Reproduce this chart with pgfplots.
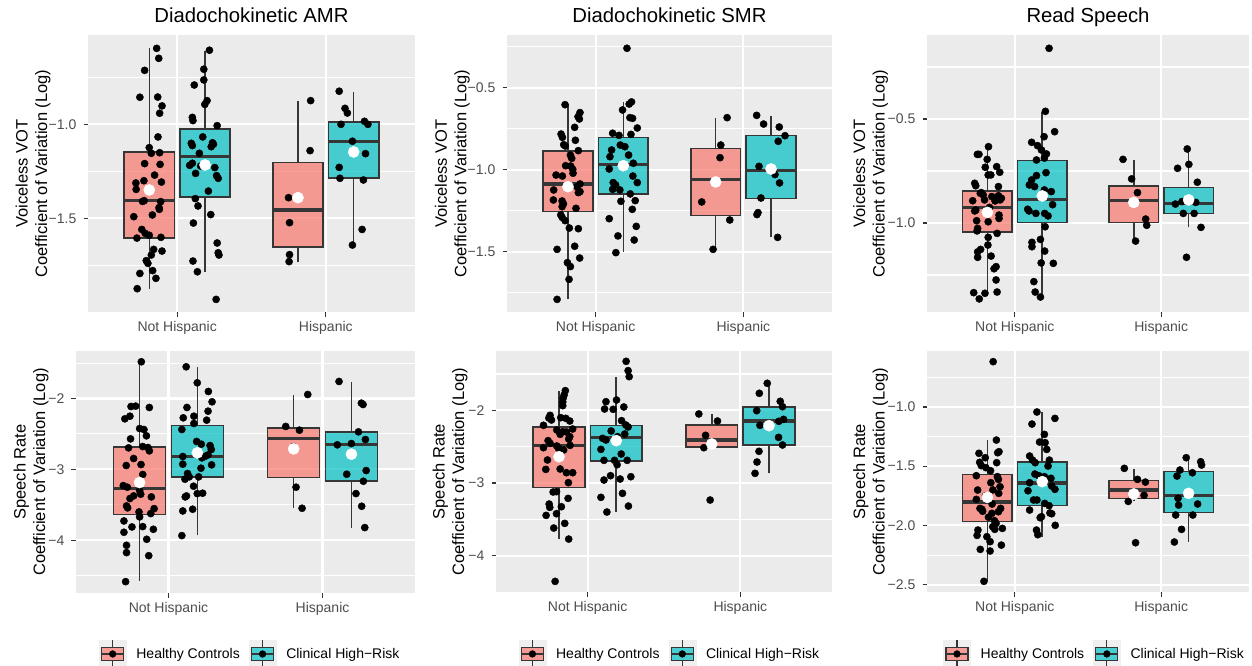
\documentclass[border=0pt]{standalone}
\usepackage{fontspec}
\setmainfont{Liberation Sans}
\usepackage{pgfplots}
\pgfplotsset{compat=1.18}
\definecolor{panelbg}{HTML}{EBEBEB}
\definecolor{ticktext}{HTML}{4D4D4D}
\definecolor{tickgrey}{HTML}{333333}
\definecolor{boxline}{HTML}{363636}
\definecolor{ggpink}{HTML}{F8766D}
\definecolor{ggteal}{HTML}{00BFC4}
\definecolor{keybg}{HTML}{EFEFEF}
\definecolor{keypink}{HTML}{F69B95}
\definecolor{keyteal}{HTML}{49CED2}
\pgfplotsset{
  gg/.style={
    scale only axis, anchor=north west,
    xmin=0.4, xmax=2.6, enlargelimits=false,
    xtick={1,2}, xticklabels={Not Hispanic,Hispanic},
    axis background/.style={fill=panelbg},
    axis line style={draw=none},
    tick align=outside, major tick length=4.5pt, minor tick length=0pt,
    tick style={draw=tickgrey, line width=1.1pt},
    tick pos=left,
    xmajorgrids, ymajorgrids, yminorgrids,
    major grid style={draw=white, line width=2.1pt},
    minor grid style={draw=white, line width=1.05pt},
    /pgf/number format/assume math mode=true,
    tick label style={font=\fontsize{14}{16.8}\selectfont, text=ticktext},
    xticklabel style={anchor=base, yshift=-14.5pt},
    yticklabel style={anchor=east, inner sep=0pt, xshift=-7pt},
    ylabel style={font=\fontsize{16.5}{19.5}\selectfont, align=center, anchor=south, inner sep=0pt},
    title style={font=\fontsize{20.3}{24}\selectfont, at={(axis description cs:0.5,1)}, anchor=base, yshift=6.3pt, inner sep=0pt},
    legend cell align=left,
  },
  whisk/.style={draw=boxline, line width=1.6pt, forget plot},
  pts/.style={only marks, mark=*, mark size=3.6pt, draw=black, fill=black, forget plot},
  means/.style={only marks, mark=*, mark size=5.6pt, draw=white, fill=white, forget plot},
  ggkey/.style={legend image code/.code={
      \fill[keybg] (0pt,-13.5pt) rectangle (27pt,13.5pt);
      \draw[boxline, line width=1.1pt] (13.5pt,-13.5pt) -- (13.5pt,13.5pt);
      \filldraw[fill=#1, draw=boxline, line width=1.1pt] (2.5pt,-6.5pt) rectangle (24.5pt,6.5pt);
      \draw[boxline, line width=2.2pt] (2.5pt,0pt) -- (24.5pt,0pt);
      \fill[black] (13.5pt,0pt) circle (3.4pt);
  }},
  gglegend/.style 2 args={
    legend style={at={(axis description cs:#1,#2)}, anchor=west, legend columns=2,
      draw=none, fill=none, inner sep=0pt, outer sep=0pt,
      font=\fontsize{14}{16.8}\selectfont, text=black, nodes={inner sep=0pt},
      /tikz/every odd column/.append style={column sep=10pt},
      /tikz/every even column/.append style={column sep=9pt}},
  },
}
% one box with whiskers and median: fill, x left, x centre, x right, lower whisker, Q1, median, Q3, upper whisker
\newcommand{\ggbox}[9]{%
  \addplot[whisk] coordinates {(#3,#5) (#3,#6)};
  \addplot[whisk] coordinates {(#3,#8) (#3,#9)};
  \addplot[draw=boxline, fill=#1, fill opacity=0.7, line width=1.6pt, line join=miter, forget plot]
     coordinates {(#2,#6) (#4,#6) (#4,#8) (#2,#8)} -- cycle;
  \addplot[draw=boxline, line width=3.2pt, forget plot] coordinates {(#2,#7) (#4,#7)};
}
\newcommand{\bA}[5]{\ggbox{ggpink}{0.64375}{0.8125}{0.98125}{#1}{#2}{#3}{#4}{#5}}
\newcommand{\bB}[5]{\ggbox{ggteal}{1.01875}{1.1875}{1.35625}{#1}{#2}{#3}{#4}{#5}}
\newcommand{\bC}[5]{\ggbox{ggpink}{1.64375}{1.8125}{1.98125}{#1}{#2}{#3}{#4}{#5}}
\newcommand{\bD}[5]{\ggbox{ggteal}{2.01875}{2.1875}{2.35625}{#1}{#2}{#3}{#4}{#5}}
\begin{document}
\begin{tikzpicture}
\path[use as bounding box] (0pt,0pt) rectangle (1252pt,-666pt);

%% ---------------- Panel 1: AMR, VOT ----------------
\begin{axis}[gg, at={(88pt,-35pt)}, width=327pt, height=277pt,
  ymin=-1.998, ymax=-0.525,
  ytick={-2,-1.5,-1}, yticklabels={−2.0,−1.5,−1.0}, minor ytick={-1.75,-1.25,-0.75},
  title={Diadochokinetic AMR},
  ylabel={Voiceless VOT\\Coefficient of Variation (Log)},
  ylabel style={at={(axis description cs:-0.1137,0.5)}}]
\bA{-1.874}{-1.606}{-1.404}{-1.147}{-0.596}
\bB{-1.784}{-1.387}{-1.172}{-1.025}{-0.608}
\bC{-1.730}{-1.652}{-1.456}{-1.202}{-0.874}
\bD{-1.642}{-1.287}{-1.092}{-0.989}{-0.826}
\addplot[pts] coordinates {
(0.862,-0.596) (0.876,-0.649) (0.781,-0.713) (0.749,-0.856) (0.869,-0.855) (0.898,-0.902)
(0.882,-0.941) (0.871,-1.067) (0.812,-1.124) (0.826,-1.154) (0.882,-1.151) (0.781,-1.209)
(0.885,-1.213) (0.848,-1.270) (0.776,-1.300) (0.894,-1.307) (0.722,-1.312) (0.724,-1.346)
(0.778,-1.406) (0.767,-1.410) (0.889,-1.411) (0.878,-1.443) (0.880,-1.452) (0.833,-1.482)
(0.708,-1.491) (0.762,-1.559) (0.729,-1.605) (0.785,-1.580) (0.812,-1.590) (0.891,-1.601)
(0.842,-1.665) (0.898,-1.674) (0.826,-1.695) (0.792,-1.725) (0.803,-1.739) (0.835,-1.778)
(0.749,-1.793) (0.857,-1.819) (0.731,-1.874)};
\addplot[pts] coordinates {
(1.217,-0.606) (1.179,-0.707) (1.179,-0.764) (1.115,-0.791) (1.201,-0.874) (1.186,-0.894)
(1.102,-0.963) (1.106,-0.980) (1.269,-1.007) (1.172,-1.067) (1.095,-1.101) (1.102,-1.113)
(1.238,-1.098) (1.229,-1.119) (1.149,-1.154) (1.244,-1.106) (1.084,-1.218) (1.102,-1.207)
(1.253,-1.230) (1.124,-1.261) (1.265,-1.273) (1.276,-1.287) (1.210,-1.355) (1.122,-1.395)
(1.140,-1.434) (1.226,-1.480) (1.109,-1.525) (1.269,-1.631) (1.276,-1.683) (1.281,-1.695)
(1.106,-1.727) (1.136,-1.784) (1.262,-1.931) (1.158,-1.222)};
\addplot[pts] coordinates {
(1.898,-0.874) (1.894,-1.140) (1.749,-1.390) (1.756,-1.523) (1.756,-1.693) (1.753,-1.730)};
\addplot[pts] coordinates {
(2.090,-0.824) (2.129,-0.915) (2.145,-0.940) (2.102,-1.000) (2.260,-0.984) (2.283,-1.000)
(2.179,-1.090) (2.267,-1.156) (2.090,-1.229) (2.095,-1.287) (2.253,-1.296) (2.244,-1.559)
(2.179,-1.642)};
\addplot[means] coordinates {(0.8125,-1.349) (1.1875,-1.216) (1.8125,-1.390) (2.1875,-1.147)};
\end{axis}

%% ---------------- Panel 2: SMR, VOT ----------------
\begin{axis}[gg, at={(507pt,-35pt)}, width=325pt, height=277pt,
  ymin=-1.868, ymax=-0.179,
  ytick={-1.5,-1,-0.5}, yticklabels={−1.5,−1.0,−0.5}, minor ytick={-1.75,-1.25,-0.75,-0.25},
  title={Diadochokinetic SMR},
  ylabel={Voiceless VOT\\Coefficient of Variation (Log)},
  ylabel style={at={(axis description cs:-0.1139,0.5)}}]
\bA{-1.789}{-1.256}{-1.087}{-0.888}{-0.602}
\bB{-1.500}{-1.150}{-0.967}{-0.805}{-0.590}
\bC{-1.486}{-1.280}{-1.061}{-0.870}{-0.683}
\bD{-1.411}{-1.177}{-1.006}{-0.793}{-0.673}
\addplot[pts] coordinates {
(0.793,-0.604) (0.894,-0.652) (0.881,-0.677) (0.890,-0.691) (0.858,-0.742) (0.766,-0.783)
(0.775,-0.803) (0.863,-0.821) (0.784,-0.848) (0.795,-0.856) (0.883,-0.884) (0.829,-0.911)
(0.838,-0.931) (0.797,-0.976) (0.831,-0.978) (0.845,-0.998) (0.847,-1.022) (0.732,-1.033)
(0.775,-1.039) (0.894,-1.087) (0.874,-1.104) (0.716,-1.124) (0.883,-1.140) (0.894,-1.134)
(0.714,-1.185) (0.773,-1.191) (0.782,-1.209) (0.773,-1.226) (0.867,-1.236) (0.764,-1.276)
(0.773,-1.291) (0.793,-1.311) (0.822,-1.356) (0.883,-1.360) (0.739,-1.486) (0.858,-1.467)
(0.809,-1.567) (0.829,-1.591) (0.892,-1.539) (0.820,-1.669) (0.739,-1.791)};
\addplot[pts] coordinates {
(1.212,-0.260) (1.243,-0.587) (1.227,-0.600) (1.182,-0.636) (1.232,-0.683) (1.250,-0.687)
(1.282,-0.746) (1.115,-0.778) (1.158,-0.791) (1.239,-0.785) (1.167,-0.850) (1.198,-0.860)
(1.108,-0.880) (1.097,-0.921) (1.223,-0.911) (1.255,-0.961) (1.092,-0.996) (1.252,-1.039)
(1.119,-1.079) (1.282,-1.079) (1.135,-1.093) (1.115,-1.120) (1.164,-1.124) (1.234,-1.148)
(1.171,-1.193) (1.268,-1.189) (1.248,-1.242) (1.092,-1.299) (1.275,-1.346) (1.151,-1.404)
(1.261,-1.429) (1.137,-1.506)};
\addplot[pts] coordinates {
(1.890,-0.683) (1.847,-0.850) (1.842,-0.927) (1.718,-1.197) (1.908,-1.307) (1.795,-1.486)};
\addplot[pts] coordinates {
(2.090,-0.669) (2.137,-0.722) (2.243,-0.740) (2.282,-0.793) (2.236,-0.827) (2.106,-0.980)
(2.214,-1.030) (2.245,-1.081) (2.119,-1.173) (2.099,-1.262) (2.092,-1.274) (2.232,-1.413)};
\addplot[means] coordinates {(0.8125,-1.104) (1.1875,-0.976) (1.8125,-1.075) (2.1875,-0.996)};
\end{axis}

%% ---------------- Panel 3: Read, VOT ----------------
\begin{axis}[gg, at={(927pt,-35pt)}, width=322pt, height=277pt,
  ymin=-1.428, ymax=-0.096,
  ytick={-1,-0.5}, yticklabels={−1.0,−0.5}, minor ytick={-1.25,-0.75,-0.25},
  title={Read Speech},
  ylabel={Voiceless VOT\\Coefficient of Variation (Log)},
  ylabel style={at={(axis description cs:-0.1207,0.5)}}]
\bA{-1.351}{-1.042}{-0.925}{-0.845}{-0.633}
\bB{-1.354}{-0.998}{-0.886}{-0.699}{-0.465}
\bC{-1.079}{-0.998}{-0.891}{-0.821}{-0.697}
\bD{-1.021}{-0.955}{-0.907}{-0.830}{-0.644}
\addplot[pts] coordinates {
(0.820,-0.633) (0.744,-0.670) (0.755,-0.670) (0.811,-0.694) (0.798,-0.732) (0.876,-0.729)
(0.897,-0.756) (0.818,-0.769) (0.836,-0.769) (0.726,-0.809) (0.733,-0.821) (0.888,-0.825)
(0.771,-0.854) (0.764,-0.857) (0.784,-0.865) (0.888,-0.869) (0.908,-0.881) (0.843,-0.873)
(0.712,-0.893) (0.793,-0.889) (0.865,-0.894) (0.899,-0.889) (0.733,-0.938) (0.726,-0.942)
(0.827,-0.925) (0.892,-0.962) (0.892,-0.978) (0.739,-0.989) (0.818,-0.994) (0.746,-1.026)
(0.742,-1.038) (0.879,-1.050) (0.818,-1.069) (0.816,-1.106) (0.766,-1.127) (0.746,-1.139)
(0.746,-1.165) (0.838,-1.159) (0.872,-1.210) (0.858,-1.220) (0.872,-1.274) (0.719,-1.335)
(0.796,-1.338) (0.879,-1.332) (0.757,-1.365)};
\addplot[pts] coordinates {
(1.234,-0.160) (1.209,-0.463) (1.272,-0.561) (1.200,-0.585) (1.115,-0.612) (1.155,-0.628)
(1.182,-0.649) (1.216,-0.668) (1.202,-0.688) (1.148,-0.697) (1.213,-0.758) (1.148,-0.772)
(1.115,-0.793) (1.099,-0.817) (1.135,-0.825) (1.202,-0.841) (1.249,-0.849) (1.088,-0.934)
(1.097,-0.942) (1.144,-0.954) (1.204,-0.954) (1.258,-0.912) (1.227,-0.966) (1.207,-1.018)
(1.117,-1.093) (1.175,-1.079) (1.117,-1.114) (1.204,-1.135) (1.180,-1.192) (1.263,-1.194)
(1.130,-1.282) (1.139,-1.332) (1.175,-1.356)};
\addplot[pts] coordinates {
(1.739,-0.694) (1.798,-0.788) (1.838,-0.854) (1.894,-0.981) (1.901,-1.011) (1.825,-1.087)};
\addplot[pts] coordinates {
(2.178,-0.644) (2.189,-0.718) (2.112,-0.737) (2.247,-0.804) (2.142,-0.897) (2.097,-0.909)
(2.236,-0.901) (2.151,-0.954) (2.225,-0.954) (2.272,-1.021) (2.173,-1.165)};
\addplot[means] coordinates {(0.8125,-0.949) (1.1875,-0.870) (1.8125,-0.901) (2.1875,-0.889)};
\end{axis}

%% ---------------- Panel 4: AMR, Speech rate ----------------
\begin{axis}[gg, at={(76pt,-351pt)}, width=339pt, height=242pt,
  ymin=-4.745, ymax=-1.33,
  ytick={-4,-3,-2}, yticklabels={−4,−3,−2}, minor ytick={-4.5,-3.5,-2.5,-1.5},
  ylabel={Speech Rate\\Coefficient of Variation (Log)},
  ylabel style={at={(axis description cs:-0.0805,0.5)}},
  gglegend={0.0678}{-0.252}]
\bA{-4.575}{-3.638}{-3.271}{-2.687}{-1.482}
\bB{-3.926}{-3.111}{-2.815}{-2.381}{-1.562}
\bC{-3.540}{-3.116}{-2.565}{-2.414}{-1.953}
\bD{-3.822}{-3.168}{-2.650}{-2.476}{-1.769}
\addplot[pts] coordinates {
(0.824,-1.482) (0.757,-2.113) (0.787,-2.108) (0.876,-2.127) (0.717,-2.287) (0.750,-2.250)
(0.813,-2.424) (0.841,-2.438) (0.857,-2.527) (0.754,-2.570) (0.741,-2.697) (0.833,-2.678)
(0.867,-2.692) (0.876,-2.739) (0.774,-2.847) (0.726,-2.946) (0.822,-2.932) (0.833,-3.073)
(0.707,-3.229) (0.733,-3.252) (0.774,-3.375) (0.750,-3.412) (0.820,-3.351) (0.889,-3.389)
(0.728,-3.516) (0.735,-3.544) (0.907,-3.554) (0.885,-3.624) (0.809,-3.601) (0.813,-3.671)
(0.711,-3.728) (0.763,-3.813) (0.833,-3.808) (0.902,-3.846) (0.711,-3.888) (0.728,-4.072)
(0.859,-3.987) (0.728,-4.175) (0.872,-4.218) (0.722,-4.585) (0.813,-3.300)};
\addplot[pts] coordinates {
(1.115,-1.553) (1.187,-1.779) (1.259,-1.901) (1.283,-2.047) (1.120,-2.127) (1.257,-2.179)
(1.096,-2.273) (1.165,-2.250) (1.248,-2.306) (1.165,-2.353) (1.087,-2.438) (1.183,-2.607)
(1.213,-2.645) (1.270,-2.664) (1.278,-2.720) (1.257,-2.796) (1.093,-2.819) (1.217,-2.838)
(1.239,-2.815) (1.093,-2.927) (1.211,-2.984) (1.280,-2.937) (1.124,-3.059) (1.135,-3.106)
(1.196,-3.106) (1.107,-3.139) (1.163,-3.238) (1.117,-3.375) (1.109,-3.389) (1.222,-3.337)
(1.187,-3.342) (1.157,-3.563) (1.093,-3.587) (1.087,-3.935)};
\addplot[pts] coordinates {
(1.904,-1.944) (1.761,-2.395) (1.850,-2.447) (1.811,-2.680) (1.828,-3.252) (1.867,-3.549)};
\addplot[pts] coordinates {
(2.107,-1.760) (2.252,-2.066) (2.263,-2.085) (2.233,-2.471) (2.278,-2.579) (2.096,-2.654)
(2.187,-2.636) (2.157,-3.069) (2.283,-3.017) (2.265,-3.168) (2.217,-3.342) (2.254,-3.521)
(2.274,-3.822)};
\addplot[means] coordinates {(0.8125,-3.186) (1.1875,-2.767) (1.8125,-2.711) (2.1875,-2.786)};
\addlegendimage{ggkey=keypink}
\addlegendentry{Healthy Controls}
\addlegendimage{ggkey=keyteal}
\addlegendentry{Clinical High−Risk}
\end{axis}

%% ---------------- Panel 5: SMR, Speech rate ----------------
\begin{axis}[gg, at={(496pt,-351pt)}, width=336pt, height=241pt,
  ymin=-4.499, ymax=-1.184,
  ytick={-4,-3,-2}, yticklabels={−4,−3,−2}, minor ytick={-3.5,-2.5,-1.5},
  ylabel={Speech Rate\\Coefficient of Variation (Log)},
  ylabel style={at={(axis description cs:-0.0843,0.5)}},
  gglegend={0.0676}{-0.257}]
\bA{-3.766}{-3.060}{-2.482}{-2.229}{-1.729}
\bB{-3.399}{-2.693}{-2.372}{-2.211}{-1.546}
\bC{-2.514}{-2.505}{-2.408}{-2.202}{-2.055}
\bD{-2.867}{-2.477}{-2.147}{-1.954}{-1.628}
\addplot[pts] coordinates {
(0.854,-1.729) (0.846,-1.789) (0.839,-1.835) (0.837,-1.885) (0.837,-1.936) (0.754,-2.069)
(0.746,-2.106) (0.763,-2.133) (0.824,-2.101) (0.857,-2.110) (0.883,-2.147) (0.711,-2.206)
(0.902,-2.257) (0.798,-2.271) (0.837,-2.294) (0.861,-2.298) (0.820,-2.330) (0.883,-2.362)
(0.741,-2.417) (0.754,-2.454) (0.876,-2.394) (0.798,-2.491) (0.885,-2.482) (0.711,-2.514)
(0.809,-2.523) (0.843,-2.546) (0.737,-2.683) (0.726,-2.812) (0.820,-2.807) (0.861,-2.858)
(0.902,-2.858) (0.874,-2.995) (0.774,-3.124) (0.796,-3.119) (0.872,-3.211) (0.748,-3.289)
(0.752,-3.335) (0.828,-3.326) (0.728,-3.445) (0.796,-3.422) (0.850,-3.555) (0.778,-3.619)
(0.876,-3.771) (0.787,-4.353)};
\addplot[pts] coordinates {
(1.252,-1.326) (1.265,-1.454) (1.272,-1.537) (1.120,-1.881) (1.189,-1.858) (1.237,-1.954)
(1.111,-1.982) (1.167,-1.986) (1.222,-2.142) (1.250,-2.202) (1.265,-2.229) (1.154,-2.284)
(1.098,-2.385) (1.120,-2.408) (1.196,-2.362) (1.243,-2.326) (1.087,-2.537) (1.220,-2.601)
(1.107,-2.688) (1.176,-2.688) (1.193,-2.748) (1.259,-2.688) (1.150,-2.899) (1.283,-2.913)
(1.107,-2.959) (1.213,-2.945) (1.228,-3.142) (1.087,-3.197) (1.267,-3.317) (1.126,-3.399)};
\addplot[pts] coordinates {
(1.728,-2.050) (1.850,-2.147) (1.772,-2.344) (1.800,-2.470) (1.761,-2.514) (1.802,-3.234)};
\addplot[pts] coordinates {
(2.176,-1.628) (2.124,-1.766) (2.261,-1.876) (2.276,-1.950) (2.107,-2.005) (2.252,-2.151)
(2.283,-2.124) (2.128,-2.206) (2.250,-2.372) (2.276,-2.477) (2.122,-2.564) (2.109,-2.711)
(2.096,-2.867)};
\addplot[means] coordinates {(0.8125,-2.638) (1.1875,-2.417) (1.8125,-2.463) (2.1875,-2.211)};
\addlegendimage{ggkey=keypink}
\addlegendentry{Healthy Controls}
\addlegendimage{ggkey=keyteal}
\addlegendentry{Clinical High−Risk}
\end{axis}

%% ---------------- Panel 6: Read, Speech rate ----------------
\begin{axis}[gg, at={(927pt,-351pt)}, width=322pt, height=241pt,
  ymin=-2.562, ymax=-0.527,
  ytick={-2.5,-2,-1.5,-1}, yticklabels={−2.5,−2.0,−1.5,−1.0}, minor ytick={-2.25,-1.75,-1.25,-0.75},
  ylabel={Speech Rate\\Coefficient of Variation (Log)},
  ylabel style={at={(axis description cs:-0.1207,0.5)}},
  gglegend={0.0506}{-0.257}]
\bA{-2.467}{-1.968}{-1.802}{-1.569}{-1.282}
\bB{-2.095}{-1.833}{-1.642}{-1.462}{-1.039}
\bC{-1.797}{-1.771}{-1.700}{-1.622}{-1.526}
\bD{-2.140}{-1.892}{-1.746}{-1.543}{-1.428}
\addplot[pts] coordinates {
(0.852,-0.617) (0.874,-1.279) (0.755,-1.391) (0.892,-1.377) (0.883,-1.386) (0.798,-1.428)
(0.760,-1.467) (0.876,-1.470) (0.771,-1.495) (0.802,-1.512) (0.834,-1.538) (0.737,-1.580)
(0.881,-1.588) (0.888,-1.611) (0.836,-1.639) (0.746,-1.701) (0.899,-1.673) (0.890,-1.729)
(0.737,-1.780) (0.845,-1.819) (0.762,-1.856) (0.903,-1.856) (0.775,-1.864) (0.843,-1.898)
(0.888,-1.884) (0.861,-1.960) (0.872,-1.983) (0.849,-2.011) (0.915,-2.025) (0.863,-2.033)
(0.748,-2.039) (0.742,-2.084) (0.809,-2.095) (0.831,-2.137) (0.908,-2.166) (0.764,-2.202)
(0.831,-2.216) (0.789,-2.472) (0.800,-1.750) (0.850,-1.700) (0.780,-1.880) (0.820,-1.930)};
\addplot[pts] coordinates {
(1.151,-1.042) (1.274,-1.096) (1.117,-1.144) (1.202,-1.231) (1.169,-1.296) (1.207,-1.301)
(1.218,-1.358) (1.101,-1.414) (1.121,-1.448) (1.236,-1.448) (1.139,-1.470) (1.227,-1.498)
(1.137,-1.566) (1.164,-1.580) (1.202,-1.588) (1.247,-1.602) (1.101,-1.639) (1.252,-1.667)
(1.090,-1.707) (1.274,-1.695) (1.128,-1.785) (1.151,-1.785) (1.204,-1.814) (1.234,-1.833)
(1.240,-1.895) (1.101,-1.870) (1.252,-1.901) (1.182,-1.926) (1.173,-1.935) (1.148,-2.039)
(1.157,-2.078) (1.276,-1.999)};
\addplot[pts] coordinates {
(1.748,-1.518) (1.838,-1.611) (1.892,-1.634) (1.775,-1.797) (1.883,-1.746) (1.825,-2.146)};
\addplot[pts] coordinates {
(2.171,-1.428) (2.270,-1.462) (2.276,-1.490) (2.128,-1.532) (2.213,-1.555) (2.108,-1.583)
(2.115,-1.771) (2.119,-1.828) (2.249,-1.819) (2.099,-1.912) (2.216,-1.912) (2.139,-2.033)
(2.090,-2.140)};
\addplot[means] coordinates {(0.8125,-1.763) (1.1875,-1.630) (1.8125,-1.734) (2.1875,-1.729)};
\addlegendimage{ggkey=keypink}
\addlegendentry{Healthy Controls}
\addlegendimage{ggkey=keyteal}
\addlegendentry{Clinical High−Risk}
\end{axis}
\end{tikzpicture}
\end{document}
